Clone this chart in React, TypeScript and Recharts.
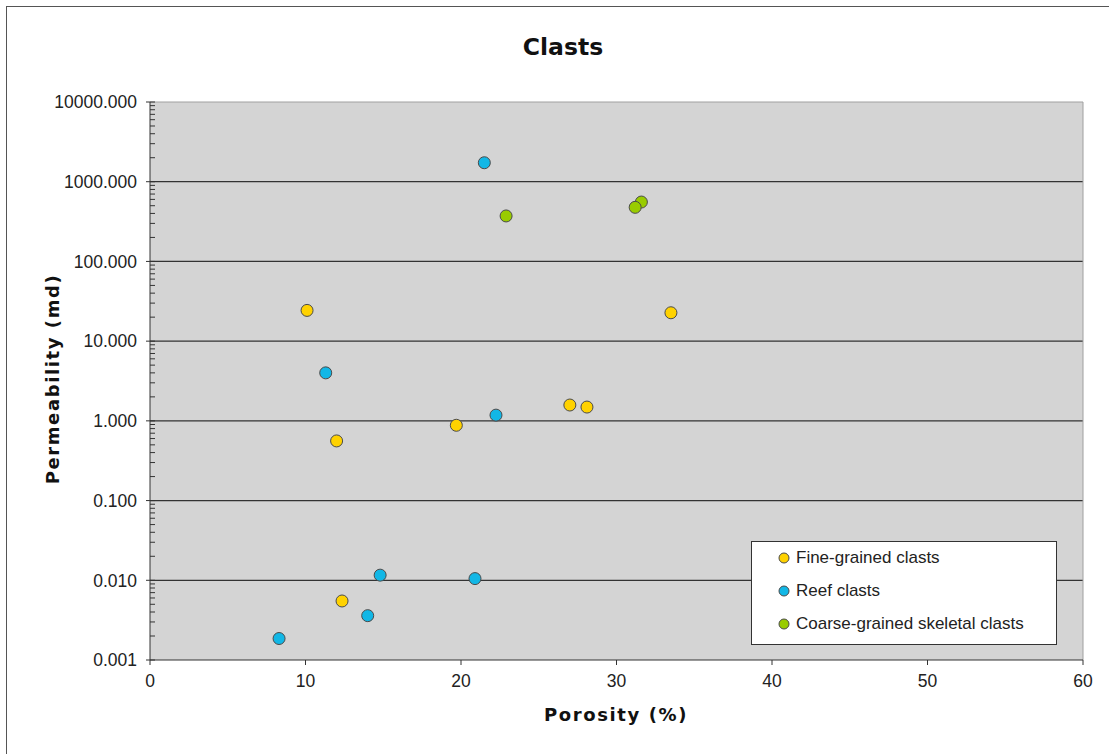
import React from "react";
import { ScatterChart, Scatter, XAxis, YAxis, CartesianGrid, ReferenceLine } from "recharts";

const fineX = [10.1, 33.5, 12.0, 19.7, 27.0, 28.1, 12.35];
const fineY = [24.3, 22.7, 0.56, 0.88, 1.58, 1.49, 0.0055];
const reefX = [21.5, 11.3, 22.25, 14.8, 20.9, 14.0, 8.3];
const reefY = [1730, 4.0, 1.18, 0.0116, 0.0105, 0.0036, 0.00186];
const coarseX = [22.9, 31.6, 31.2];
const coarseY = [372, 556, 477];

const seriesNames = ["Fine-grained clasts", "Reef clasts", "Coarse-grained skeletal clasts"];
const seriesColors = ["#ffd200", "#12b7e6", "#99cc00"];
const xTicks = [0, 10, 20, 30, 40, 50, 60];
const yDecades = [0.001, 0.01, 0.1, 1, 10, 100, 1000, 10000];
const gridDecades = [0.01, 0.1, 1, 10, 100, 1000];

const yTicks: number[] = [];
yDecades.forEach((d, i) => {
  yTicks.push(d);
  if (i < yDecades.length - 1) {
    for (let k = 2; k <= 9; k++) yTicks.push(+(d * k).toPrecision(3));
  }
});

const toPts = (xs: number[], ys: number[]) => xs.map((x, i) => ({ x, y: ys[i] }));
const fineData = toPts(fineX, fineY);
const reefData = toPts(reefX, reefY);
const coarseData = toPts(coarseX, coarseY);

const isDecade = (v: number) => Math.abs(Math.log10(v) - Math.round(Math.log10(v))) < 1e-6;

const YTick = (props: any) => {
  const { x, y, payload } = props;
  const v = payload.value;
  if (isDecade(v)) {
    return (
      <g>
        <line x1={x - 4} x2={x + 5} y1={y} y2={y} stroke="#333" strokeWidth={1} />
        <text x={x - 13} y={y} dy="0.36em" textAnchor="end" fontSize={17.5} fill="#222" fontFamily="'Liberation Sans', Arial, sans-serif">
          {v.toFixed(3)}
        </text>
      </g>
    );
  }
  return <line x1={x} x2={x + 5} y1={y} y2={y} stroke="#333" strokeWidth={1} />;
};

const dot = (color: string) => (p: any) => (
  <circle cx={p.cx} cy={p.cy} r={6} fill={color} stroke="#4a4a4a" strokeWidth={1} />
);

const LegendBox = () => (
  <div
    style={{
      position: "absolute",
      left: 751,
      top: 541,
      width: 306,
      height: 104,
      border: "1px solid #333",
      background: "#fff",
      boxSizing: "border-box",
      fontFamily: "'Liberation Sans', Arial, sans-serif",
      fontSize: 17,
      color: "#222",
    }}
  >
    {seriesNames.map((n, i) => (
      <div key={n} style={{ position: "absolute", left: 26, top: 4 + i * 33, height: 24, display: "flex", alignItems: "center", whiteSpace: "nowrap" }}>
        <svg width={12} height={12} style={{ marginRight: 6 }}>
          <circle cx={6} cy={6} r={5} fill={seriesColors[i]} stroke="#4a4a4a" strokeWidth={1} />
        </svg>
        <span>{n}</span>
      </div>
    ))}
  </div>
);

export default function App() {
  return (
    <div style={{ position: "absolute", left: 0, top: 0, width: 1109, height: 754, background: "#fff" }}>
      <ScatterChart width={1109} height={754} margin={{ top: 102, right: 26, bottom: 64, left: 0 }}>
        <CartesianGrid fill="#d4d4d4" horizontal={false} vertical={false} />
        <XAxis
          type="number"
          dataKey="x"
          domain={[0, 60]}
          ticks={xTicks}
          interval={0}
          height={30}
          axisLine={{ stroke: "#333" }}
          tickLine={{ stroke: "#333" }}
          tickSize={5}
          tickMargin={10}
          tick={{ fontSize: 17.5, fill: "#222", fontFamily: "'Liberation Sans', Arial, sans-serif" }}
          allowDataOverflow
        />
        <YAxis
          type="number"
          dataKey="y"
          scale="log"
          domain={[0.001, 10000]}
          ticks={yTicks}
          interval={0}
          width={150}
          axisLine={{ stroke: "#333" }}
          tickLine={false}
          tickSize={0}
          tickMargin={0}
          tick={<YTick />}
          allowDataOverflow
        />
        {gridDecades.map((d) => (
          <ReferenceLine key={d} y={d} stroke="#333" strokeWidth={1.3} />
        ))}
        <ReferenceLine y={10000} stroke="#a0a0a0" strokeWidth={1} />
        <ReferenceLine x={60} stroke="#a0a0a0" strokeWidth={1} />
        <Scatter name={seriesNames[0]} data={fineData} fill={seriesColors[0]} shape={dot(seriesColors[0])} isAnimationActive={false} />
        <Scatter name={seriesNames[1]} data={reefData} fill={seriesColors[1]} shape={dot(seriesColors[1])} isAnimationActive={false} />
        <Scatter name={seriesNames[2]} data={coarseData} fill={seriesColors[2]} shape={dot(seriesColors[2])} isAnimationActive={false} />
      </ScatterChart>
      <LegendBox />
      <svg width={1109} height={754} style={{ position: "absolute", left: 0, top: 0, pointerEvents: "none" }}>
        <line x1={6.5} y1={6} x2={6.5} y2={754} stroke="#555" strokeWidth={1} />
        <line x1={6} y1={6.5} x2={1109} y2={6.5} stroke="#555" strokeWidth={1} />
        <text x={563} y={55} textAnchor="middle" fontSize={23.5} fontWeight="bold" fill="#111" fontFamily="'DejaVu Sans', Verdana, sans-serif">
          Clasts
        </text>
        <text x={616} y={721} textAnchor="middle" fontSize={18} fontWeight="bold" fill="#111" letterSpacing={1.6} fontFamily="'DejaVu Sans', Verdana, sans-serif">
          Porosity (%)
        </text>
        <text
          x={0}
          y={0}
          transform="translate(59 379) rotate(-90)"
          textAnchor="middle"
          fontSize={18}
          fontWeight="bold"
          fill="#111"
          letterSpacing={1.6}
          fontFamily="'DejaVu Sans', Verdana, sans-serif"
        >
          Permeability (md)
        </text>
      </svg>
    </div>
  );
}
